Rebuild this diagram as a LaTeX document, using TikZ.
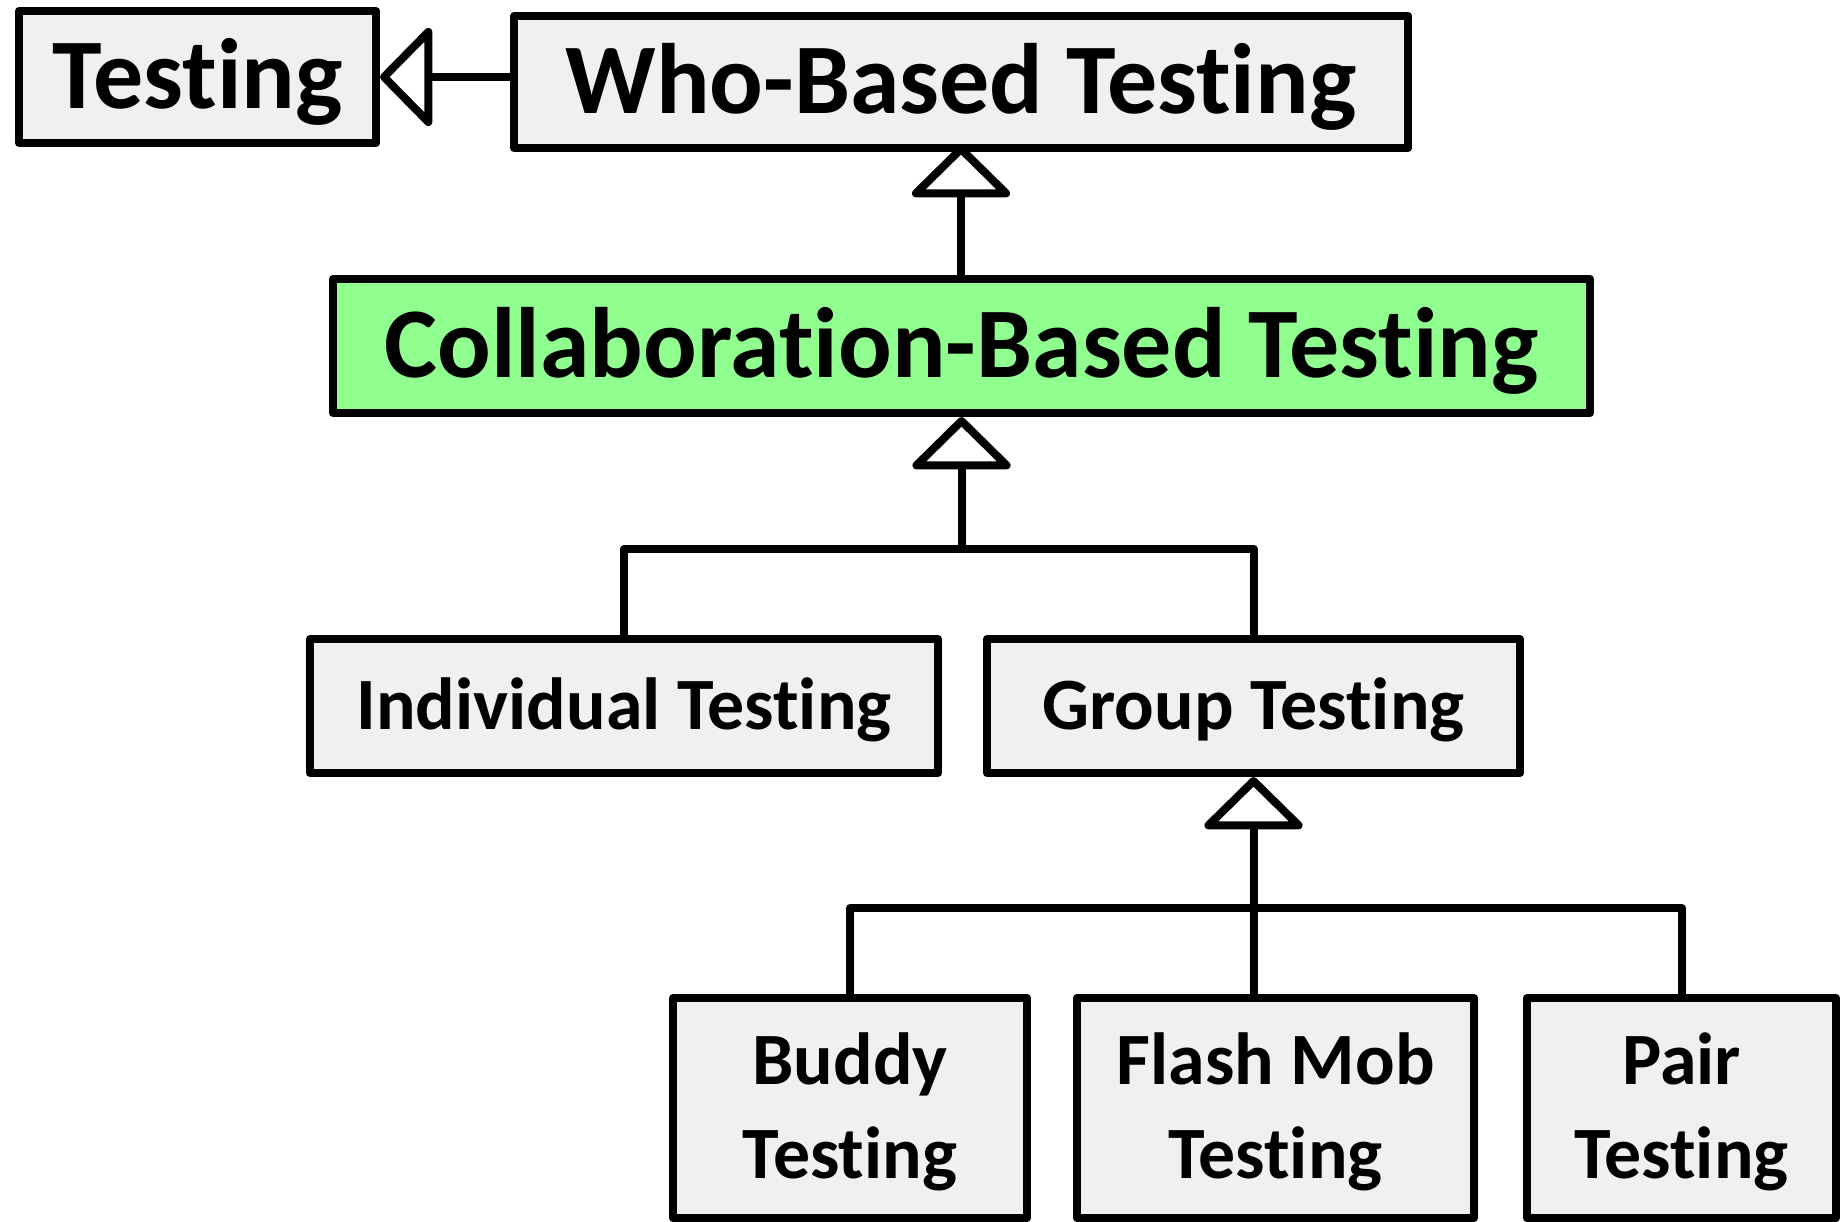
\documentclass[tikz,border=0pt]{standalone}
\usepackage{fontspec}
\setmainfont{Carlito}[Ligatures=NoCommon]
\usetikzlibrary{arrows.meta}
\definecolor{collabgreen}{RGB}{144,255,144}
\definecolor{boxgrey}{RGB}{240,240,240}
\tikzset{
  classbox/.style={draw, line width=0.08cm, line join=round, fill=boxgrey, inner sep=0pt},
  bigbox/.style={classbox, minimum height=1.32cm, text height=0.63cm, text depth=0pt, font=\fontsize{28.45}{34}\selectfont\bfseries},
  smallbox/.style={classbox, minimum height=1.34cm, align=center, text height=0.47cm, text depth=0pt, font=\fontsize{21}{26.7}\selectfont\bfseries},
  twoline/.style={smallbox, minimum height=2.2cm, text height=1.41cm},
  link/.style={line width=0.08cm, line join=round},
  isa/.style={link, -{Triangle[open, round, length=0.54cm, width=1.08cm]}}
}
\begin{document}
\begin{tikzpicture}
            \useasboundingbox (0,0) rectangle (18.45,-12.22);
            \node[bigbox, minimum width=3.57cm] (testing) at (1.975,-0.77) {Testing};
            \node[bigbox, minimum width=8.94cm] (whobased) at (9.61,-0.82) {Who-Based Testing};
            \node[bigbox, fill=collabgreen, minimum width=12.57cm, minimum height=1.34cm] (collab) at (9.615,-3.46) {Collaboration-Based Testing};
            \node[smallbox, minimum width=6.28cm] (individual) at (6.24,-7.06) {Individual Testing};
            \node[smallbox, minimum width=5.33cm] (group) at (12.535,-7.06) {Group Testing};
            \node[twoline, minimum width=3.54cm] (buddy) at (8.50,-11.08) {Buddy\\Testing};
            \node[twoline, minimum width=3.97cm] (flashmob) at (12.755,-11.08) {Flash Mob\\Testing};
            \node[twoline, minimum width=3.09cm] (pair) at (16.815,-11.08) {Pair\\Testing};
            \coordinate (collabbar) at (9.615,-5.49);
            \coordinate (groupbar) at (12.535,-9.08);
            \draw[isa] (whobased.west |- testing.east) -- (testing.east);
            \draw[isa] (collab.north -| whobased.south) -- ([yshift=0.07cm]whobased.south);
            \draw[isa] (collabbar) -- (collab.south);
            \draw[link] (individual.north) |- (collabbar) -| (group.north);
            \draw[isa] (groupbar) -- (group.south);
            \draw[link] (buddy.north) |- (groupbar) -| (pair.north);
            \draw[link] (groupbar) -- (groupbar |- flashmob.north);
\end{tikzpicture}
\end{document}
